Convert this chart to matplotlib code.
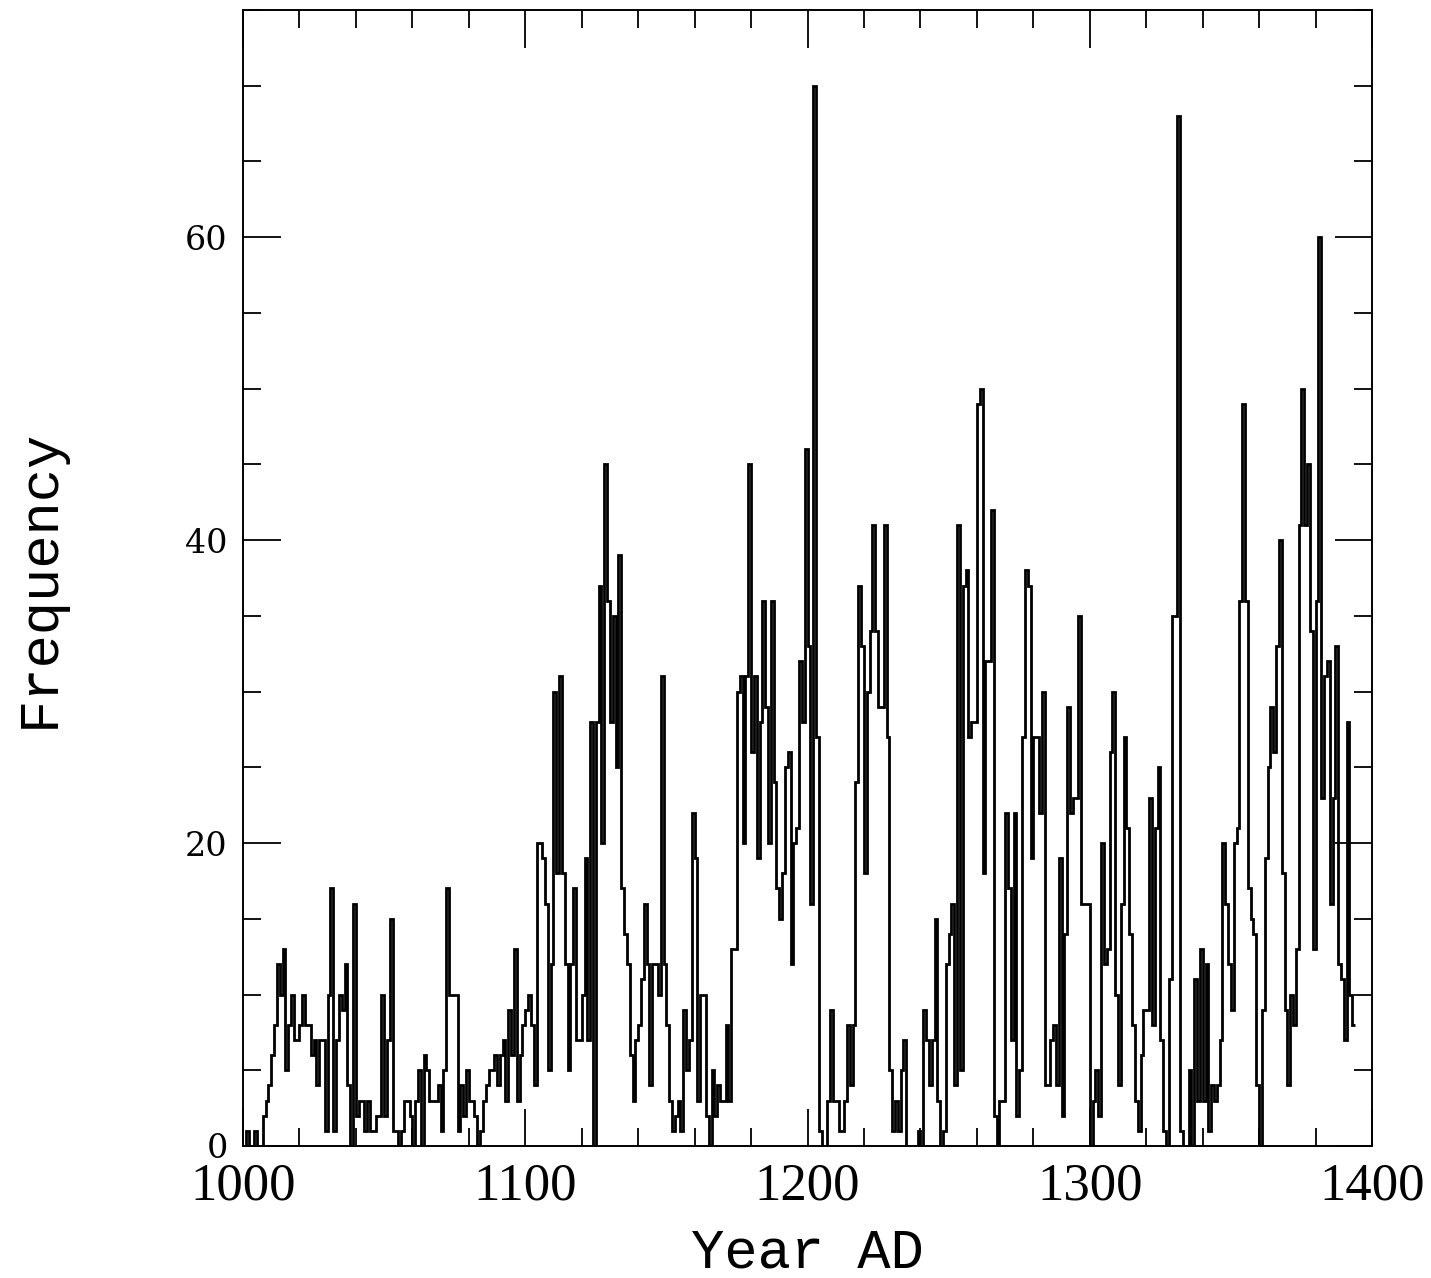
import numpy as np
import matplotlib
matplotlib.use("Agg")
import matplotlib.pyplot as plt
from matplotlib.ticker import MultipleLocator

# yearly counts, 1000 AD onwards
start_year = 1000
counts = [
    # 1000-1099
    0, 1, 0, 0, 1, 0, 0, 2, 3, 4,
    6, 8, 12, 10, 13, 5, 8, 10, 7, 7,
    8, 10, 8, 8, 6, 7, 4, 7, 7, 1,
    10, 17, 1, 7, 10, 9, 12, 4, 0, 16,
    2, 3, 3, 1, 3, 1, 1, 2, 2, 10,
    2, 7, 15, 1, 1, 0, 1, 3, 3, 2,
    0, 3, 5, 0, 6, 5, 3, 3, 3, 4,
    1, 5, 17, 10, 10, 10, 1, 4, 2, 5,
    3, 3, 2, 0, 1, 3, 4, 5, 5, 6,
    4, 6, 7, 3, 9, 6, 13, 3, 6, 8,
    # 1100-1199
    9, 10, 8, 4, 20, 20, 19, 16, 5, 12,
    30, 18, 31, 18, 12, 5, 12, 17, 7, 7,
    10, 19, 7, 28, 0, 28, 37, 20, 45, 36,
    28, 35, 25, 39, 17, 14, 12, 6, 3, 7,
    8, 11, 16, 12, 4, 12, 12, 10, 31, 12,
    8, 3, 1, 2, 3, 1, 9, 5, 7, 22,
    19, 3, 10, 10, 2, 0, 5, 2, 4, 3,
    3, 8, 3, 13, 13, 30, 31, 20, 31, 45,
    26, 31, 19, 28, 36, 29, 20, 36, 24, 17,
    15, 18, 25, 26, 12, 20, 21, 32, 28, 46,
    # 1200-1299
    33, 16, 70, 27, 1, 0, 0, 3, 9, 3,
    3, 1, 1, 3, 8, 4, 8, 24, 37, 33,
    18, 30, 34, 41, 34, 29, 29, 41, 27, 5,
    1, 3, 1, 5, 7, 0, 0, 0, 0, 1,
    0, 9, 7, 4, 7, 15, 3, 0, 1, 12,
    14, 16, 4, 41, 5, 37, 38, 27, 28, 28,
    49, 50, 18, 32, 32, 42, 2, 0, 3, 3,
    22, 17, 7, 22, 2, 5, 27, 38, 37, 19,
    27, 27, 22, 30, 4, 4, 7, 8, 4, 19,
    2, 14, 29, 22, 23, 23, 35, 16, 16, 16,
    # 1300-1393
    0, 3, 5, 2, 20, 12, 13, 26, 30, 10,
    4, 16, 27, 21, 14, 8, 3, 1, 6, 9,
    9, 23, 8, 21, 25, 7, 1, 0, 11, 35,
    35, 68, 1, 0, 0, 5, 0, 11, 3, 13,
    3, 12, 1, 4, 3, 4, 7, 20, 16, 12,
    9, 20, 21, 36, 49, 36, 17, 15, 14, 4,
    0, 9, 19, 25, 29, 26, 33, 40, 18, 9,
    4, 10, 8, 13, 41, 50, 41, 45, 34, 13,
    36, 60, 23, 31, 32, 16, 23, 33, 12, 11,
    7, 28, 10, 8,
]

edges = start_year + np.arange(len(counts) + 1)

fig = plt.figure(figsize=(14.31, 12.78), dpi=100)
ax = fig.add_axes([0.1698, 0.1033, 0.789, 0.8889])

ax.stairs(counts, edges, baseline=None, color="black", lw=2.0)

ax.set_xlim(1000, 1400)
ax.set_ylim(0, 75)

ax.xaxis.set_major_locator(MultipleLocator(100))
ax.xaxis.set_minor_locator(MultipleLocator(20))
ax.yaxis.set_major_locator(MultipleLocator(20))
ax.yaxis.set_minor_locator(MultipleLocator(5))

ax.tick_params(which="both", direction="in", top=True, right=True, width=1.3)
ax.tick_params(which="major", length=27)
ax.tick_params(which="minor", length=13)
ax.tick_params(axis="x", pad=12)
ax.tick_params(axis="y", pad=11)

for lab in ax.get_xticklabels():
    lab.set_fontfamily("Liberation Serif")
    lab.set_fontsize(38)
for lab in ax.get_yticklabels():
    lab.set_fontfamily("DejaVu Serif")
    lab.set_fontsize(24)

for sp in ax.spines.values():
    sp.set_linewidth(1.4)

ax.set_xlabel("Year AD", family="Liberation Mono", fontsize=40, labelpad=12)
ax.set_ylabel("Frequency", family="Liberation Mono", fontsize=40, labelpad=86)

fig.savefig("out.png", dpi=100)
